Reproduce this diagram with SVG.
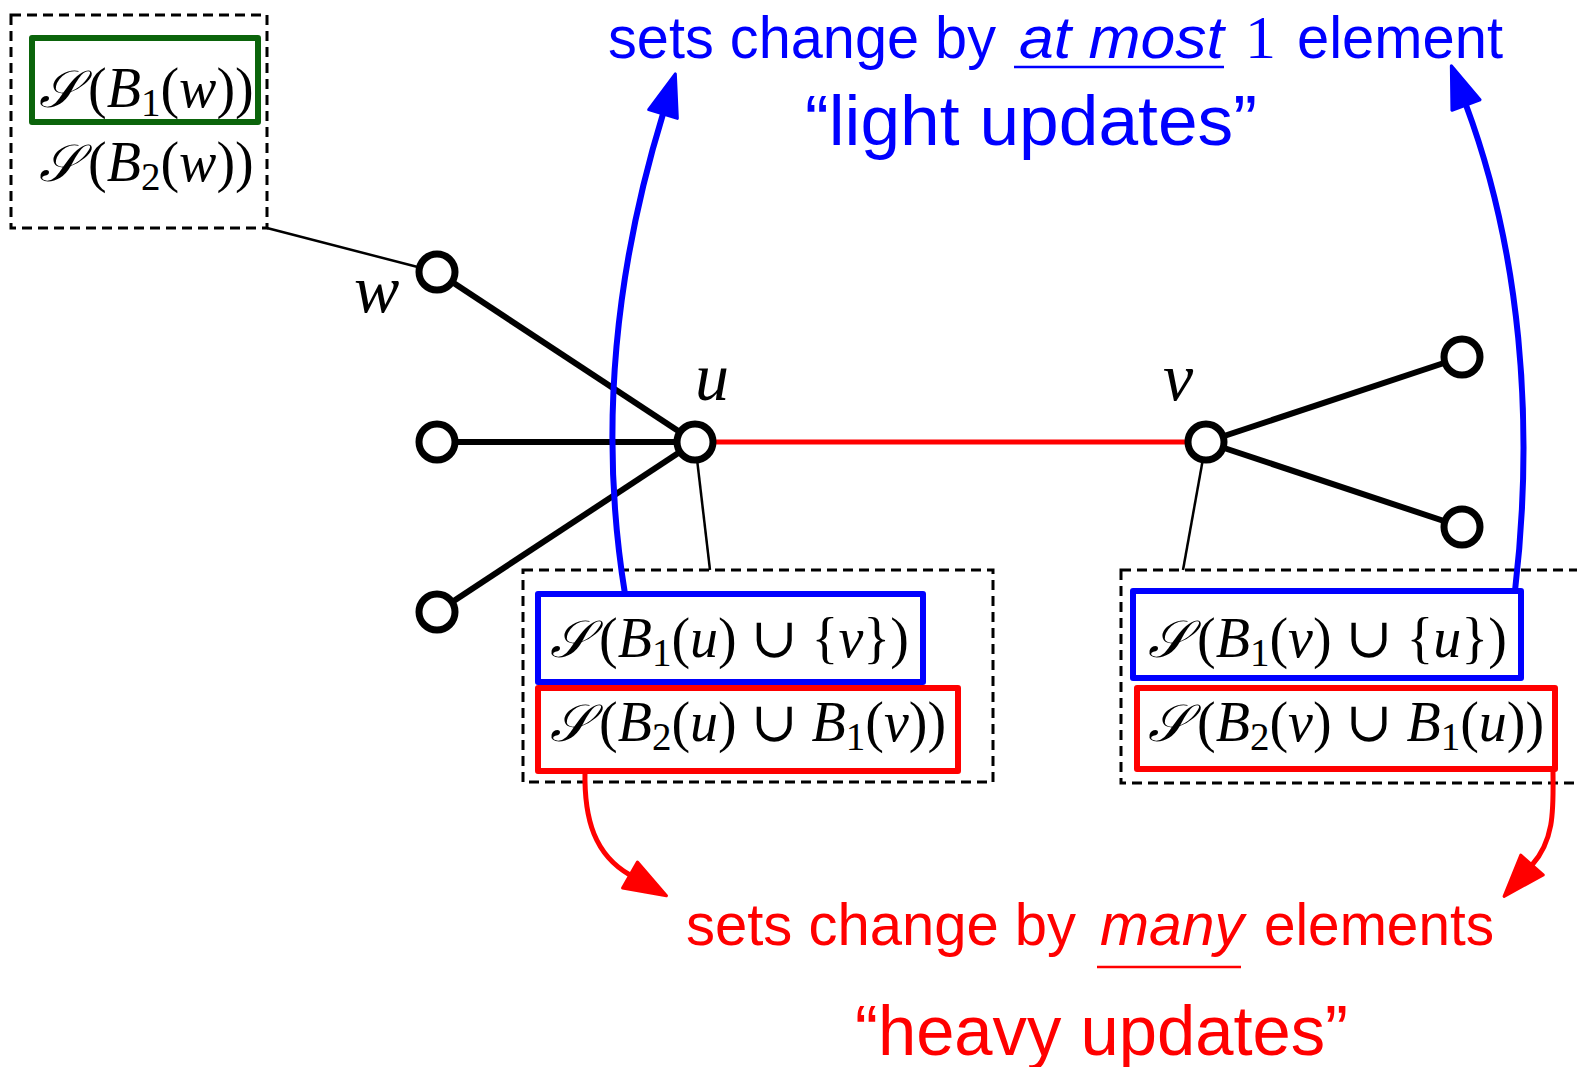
<svg xmlns="http://www.w3.org/2000/svg" width="1577" height="1067" viewBox="0 0 1577 1067">
<style>
.dash{fill:none;stroke:#000;stroke-width:3;stroke-dasharray:10 6}
.thin{fill:none;stroke:#000;stroke-width:2.5}
.edge{stroke:#000;stroke-width:6;fill:none}
.red-edge{stroke:#ff0000;stroke-width:5;fill:none}
.node{fill:#fff;stroke:#000;stroke-width:7}
.gbox{fill:none;stroke:#0b640b;stroke-width:6;stroke-linejoin:round}
.bbox{fill:none;stroke:#0000ff;stroke-width:6;stroke-linejoin:round}
.rbox{fill:none;stroke:#ff0000;stroke-width:6;stroke-linejoin:round}
.m{font-family:"Liberation Serif","DejaVu Serif",serif;font-size:56px;fill:#000}
.i{font-style:italic}
.cal{font-family:"DejaVu Serif","Liberation Serif",serif;font-style:italic;font-size:52px}
.sub{font-size:39px}
.lab{font-family:"Liberation Serif","DejaVu Serif",serif;font-style:italic;font-size:68px;fill:#000}
.sans{font-family:"Liberation Sans","DejaVu Sans",sans-serif;font-size:60px}
.big{font-family:"Liberation Sans","DejaVu Sans",sans-serif;font-size:70px}
.blue{fill:#0000ff}
.red{fill:#ff0000}
.barrow{fill:none;stroke:#0000ff;stroke-width:6}
.rarrow{fill:none;stroke:#ff0000;stroke-width:5}
</style>
<defs>
<marker id="ahB" markerUnits="userSpaceOnUse" orient="auto" viewBox="-4 -20 52 40" markerWidth="52" markerHeight="40" refX="0" refY="0">
<path d="M0,-15 L42,0 L0,15 z" fill="#0000ff" stroke="#0000ff" stroke-width="3" stroke-linejoin="round"/>
</marker>
<marker id="ahR" markerUnits="userSpaceOnUse" orient="auto" viewBox="-4 -20 52 40" markerWidth="52" markerHeight="40" refX="0" refY="0">
<path d="M0,-15 L42,0 L0,15 z" fill="#ff0000" stroke="#ff0000" stroke-width="3" stroke-linejoin="round"/>
</marker>
</defs>

<g id="connectors">
<line class="thin" x1="267" y1="228" x2="437" y2="272"/>
<line class="thin" x1="695" y1="442" x2="710" y2="570"/>
<line class="thin" x1="1206" y1="442" x2="1183" y2="570"/>
<line class="edge" x1="695" y1="442" x2="437" y2="272"/>
<line class="edge" x1="695" y1="442" x2="437" y2="442"/>
<line class="edge" x1="695" y1="442" x2="437" y2="612"/>
<line class="edge" x1="1206" y1="442" x2="1462" y2="357"/>
<line class="edge" x1="1206" y1="442" x2="1462" y2="527"/>
<line class="red-edge" x1="695" y1="442" x2="1206" y2="442"/>
</g>

<g id="node-w"><circle class="node" cx="437" cy="272" r="18"/><text class="lab" x="354" y="312">w</text></g>
<g id="node-a"><circle class="node" cx="437" cy="442" r="18"/></g>
<g id="node-b"><circle class="node" cx="437" cy="612" r="18"/></g>
<g id="node-u"><circle class="node" cx="695" cy="442" r="18"/><text class="lab" x="695" y="400">u</text></g>
<g id="node-v"><circle class="node" cx="1206" cy="442" r="18"/><text class="lab" x="1163" y="400">v</text></g>
<g id="node-c"><circle class="node" cx="1462" cy="357" r="18"/></g>
<g id="node-d"><circle class="node" cx="1462" cy="527" r="18"/></g>

<g id="box-w">
<rect class="dash" x="11" y="15" width="256" height="213"/>
<rect class="gbox" x="32" y="38" width="226" height="84"/>
<text class="m" x="39" y="107"><tspan class="cal">𝒮</tspan><tspan dx="9">(</tspan><tspan class="i">B</tspan><tspan class="sub" dy="9">1</tspan><tspan dy="-9">(</tspan><tspan class="i">w</tspan>))</text>
<text class="m" x="39" y="181"><tspan class="cal">𝒮</tspan><tspan dx="9">(</tspan><tspan class="i">B</tspan><tspan class="sub" dy="9">2</tspan><tspan dy="-9">(</tspan><tspan class="i">w</tspan>))</text>
</g>

<g id="box-u">
<rect class="dash" x="523" y="570" width="470" height="212"/>
<rect class="bbox" x="538" y="594" width="385" height="88"/>
<rect class="rbox" x="538" y="688" width="420" height="83"/>
<text class="m" x="550" y="657"><tspan class="cal">𝒮</tspan><tspan dx="9">(</tspan><tspan class="i">B</tspan><tspan class="sub" dy="9">1</tspan><tspan dy="-9">(</tspan><tspan class="i">u</tspan>) ∪ {<tspan class="i">v</tspan>})</text>
<text class="m" x="550" y="741"><tspan class="cal">𝒮</tspan><tspan dx="9">(</tspan><tspan class="i">B</tspan><tspan class="sub" dy="9">2</tspan><tspan dy="-9">(</tspan><tspan class="i">u</tspan>) ∪ <tspan class="i">B</tspan><tspan class="sub" dy="9">1</tspan><tspan dy="-9">(</tspan><tspan class="i">v</tspan>))</text>
</g>

<g id="box-v">
<rect class="dash" x="1121" y="570" width="480" height="213"/>
<rect class="bbox" x="1133" y="591" width="388" height="87"/>
<rect class="rbox" x="1137" y="688" width="418" height="81"/>
<text class="m" x="1148" y="657"><tspan class="cal">𝒮</tspan><tspan dx="9">(</tspan><tspan class="i">B</tspan><tspan class="sub" dy="9">1</tspan><tspan dy="-9">(</tspan><tspan class="i">v</tspan>) ∪ {<tspan class="i">u</tspan>})</text>
<text class="m" x="1148" y="741"><tspan class="cal">𝒮</tspan><tspan dx="9">(</tspan><tspan class="i">B</tspan><tspan class="sub" dy="9">2</tspan><tspan dy="-9">(</tspan><tspan class="i">v</tspan>) ∪ <tspan class="i">B</tspan><tspan class="sub" dy="9">1</tspan><tspan dy="-9">(</tspan><tspan class="i">u</tspan>))</text>
</g>

<g id="arrows">
<path class="barrow" d="M625,594 C600,440 612,280 663,114" marker-end="url(#ahB)"/>
<path class="barrow" d="M1515,591 C1535,420 1520,250 1466,105" marker-end="url(#ahB)"/>
<path class="rarrow" d="M585,771 C584,820 595,855 630,875" marker-end="url(#ahR)"/>
<path class="rarrow" d="M1553,769 C1553,805 1556,838 1532,865" marker-end="url(#ahR)"/>
</g>

<g id="label-light">
<text class="sans blue" x="608" y="58" textLength="388" lengthAdjust="spacingAndGlyphs">sets change by</text>
<text class="sans blue" x="1019" y="58" font-style="italic" textLength="205" lengthAdjust="spacingAndGlyphs">at most</text>
<line x1="1014" y1="67" x2="1224" y2="67" stroke="#0000ff" stroke-width="2.5"/>
<text class="blue" x="1245" y="58" font-family="Liberation Serif, DejaVu Serif, serif" font-size="62">1</text>
<text class="sans blue" x="1297" y="58" textLength="206" lengthAdjust="spacingAndGlyphs">element</text>
<text class="big blue" x="805" y="145" textLength="452" lengthAdjust="spacingAndGlyphs">“light updates”</text>
</g>

<g id="label-heavy">
<text class="sans red" x="686" y="945" textLength="390" lengthAdjust="spacingAndGlyphs">sets change by</text>
<text class="sans red" x="1100" y="945" font-style="italic" textLength="144" lengthAdjust="spacingAndGlyphs">many</text>
<line x1="1097" y1="967" x2="1241" y2="967" stroke="#ff0000" stroke-width="2.5"/>
<text class="sans red" x="1264" y="945" textLength="230" lengthAdjust="spacingAndGlyphs">elements</text>
<text class="big red" x="855" y="1055" textLength="493" lengthAdjust="spacingAndGlyphs">“heavy updates”</text>
</g>
</svg>
